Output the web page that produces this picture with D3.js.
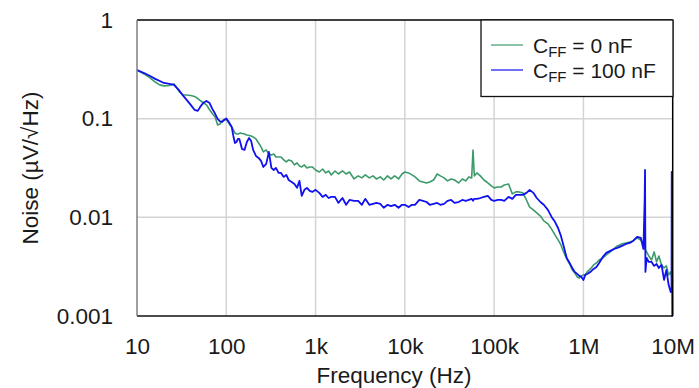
<!DOCTYPE html>
<html>
<head>
<meta charset="utf-8">
<script src="https://cdn.jsdelivr.net/npm/d3@7"></script>
<style>
  body { margin: 0; background: #fff; }
  svg text { font-family: "Liberation Sans", Arial, sans-serif; fill: #1a1a1a; }
</style>
</head>
<body>
<div id="chart"></div>
<script>
// frequency grid (Hz), shared by both traces
const freq = [10, 12, 14, 16, 18, 20, 23, 26, 30, 33, 36, 40, 44, 48, 52, 56, 60, 65, 70, 75,
  80, 85, 90, 95, 100, 105, 110, 115, 120, 125, 130, 135, 140, 145, 150, 160, 170, 180, 190, 200,
  215, 230, 245, 260, 280, 300, 320, 340, 360, 385, 410, 440, 470, 500, 540, 580, 620, 660, 700, 750,
  800, 860, 920, 1e3, 1.1e3, 1.2e3, 1.3e3, 1.4e3, 1.5e3, 1.65e3, 1.8e3, 2e3, 2.2e3, 2.4e3, 2.7e3, 3e3,
  3.3e3, 3.6e3, 4e3, 4.4e3, 4.8e3, 5.3e3, 5.8e3, 6.4e3, 7e3, 7.7e3, 8.5e3, 9.3e3, 10e3, 11e3,
  12e3, 13e3, 14.5e3, 16e3, 17.5e3, 19e3, 21e3, 23e3, 25e3, 27.5e3, 30e3, 33e3, 36e3, 40e3, 44e3,
  48e3, 52e3, 56e3, 58e3, 60e3, 64e3, 70e3, 77e3, 85e3, 93e3, 100e3, 110e3, 120e3, 130e3, 145e3,
  160e3, 175e3, 190e3, 210e3, 230e3, 250e3, 275e3, 300e3, 330e3, 360e3, 400e3, 440e3, 480e3, 520e3,
  560e3, 600e3, 650e3, 700e3, 750e3, 800e3, 850e3, 900e3, 950e3, 1e6, 1.05e6, 1.1e6, 1.2e6, 1.3e6,
  1.4e6, 1.5e6, 1.65e6, 1.8e6, 2e6, 2.2e6, 2.4e6, 2.7e6, 3e6, 3.3e6, 3.6e6, 4e6, 4.4e6, 4.7e6,
  4.85e6, 4.9e6, 4.95e6, 5.1e6, 5.4e6, 5.8e6, 6.2e6, 6.6e6, 7e6, 7.5e6, 8e6, 8.5e6, 9e6, 9.5e6,
  9.7e6, 9.75e6, 9.9e6, 10e6];

// noise, uV/rtHz, CFF = 0 nF
const noiseCff0 = [0.311, 0.284, 0.259, 0.235, 0.220, 0.215, 0.217, 0.225, 0.186, 0.174, 0.174, 0.172, 0.168, 0.160, 0.151, 0.144, 0.138, 0.123, 0.112, 0.104,
  0.0864, 0.0884, 0.0948, 0.0981, 0.0981, 0.0926, 0.0864, 0.0824, 0.0768, 0.0716, 0.0700, 0.0700, 0.0708, 0.0716, 0.0708, 0.0700, 0.0684, 0.0676, 0.0668, 0.0653,
  0.0623, 0.0567, 0.0517, 0.0460, 0.0482, 0.0439, 0.0429, 0.0439, 0.0409, 0.0409, 0.0409, 0.0382, 0.0364, 0.0382, 0.0373, 0.0340, 0.0356, 0.0332, 0.0324, 0.0340,
  0.0317, 0.0324, 0.0324, 0.0302, 0.0288, 0.0309, 0.0282, 0.0295, 0.0269, 0.0295, 0.0275, 0.0295, 0.0275, 0.0288, 0.0245, 0.0263,
  0.0251, 0.0269, 0.0251, 0.0263, 0.0245, 0.0257, 0.0239, 0.0263, 0.0245, 0.0263, 0.0245, 0.0275, 0.0288, 0.0282,
  0.0269, 0.0257, 0.0234, 0.0228, 0.0223, 0.0228, 0.0239, 0.0275, 0.0263, 0.0251, 0.0234, 0.0245, 0.0239, 0.0223, 0.0245,
  0.0234, 0.0257, 0.0251, 0.0482, 0.0263, 0.0282, 0.0263, 0.0239, 0.0223, 0.0208, 0.0199, 0.0203, 0.0203, 0.0213, 0.0218,
  0.0173, 0.0181, 0.0181, 0.0177, 0.0150, 0.0127, 0.0119, 0.0111, 0.0103, 0.0092, 0.0086, 0.0076, 0.00663, 0.00590,
  0.00525, 0.00446, 0.00379, 0.00337, 0.00293, 0.00273, 0.00249, 0.00243, 0.00255, 0.00261, 0.00261, 0.00280, 0.00300, 0.00329,
  0.00345, 0.00370, 0.00388, 0.00416, 0.00446, 0.00478, 0.00513, 0.00538, 0.00550, 0.00563, 0.00577, 0.00618, 0.00590, 0.00513,
  0.00745, 0.0106, 0.00467, 0.00446, 0.00406, 0.00370, 0.00446, 0.00353, 0.00406, 0.00329, 0.00307, 0.00322, 0.00261, 0.00280,
  0.00255, 0.00243, 0.00232, 0.00222];

// noise, uV/rtHz, CFF = 100 nF
const noiseCff100 = [0.311, 0.290, 0.271, 0.253, 0.241, 0.230, 0.225, 0.220, 0.191, 0.170, 0.155, 0.138, 0.123, 0.120, 0.135, 0.146, 0.151, 0.144, 0.125, 0.112,
  0.0993, 0.0937, 0.0926, 0.0970, 0.1005, 0.0948, 0.0884, 0.0824, 0.0668, 0.0567, 0.0580, 0.0623, 0.0623, 0.0554, 0.0493, 0.0482, 0.0580, 0.0637, 0.0594, 0.0482,
  0.0419, 0.0400, 0.0373, 0.0324, 0.0348, 0.0460, 0.0317, 0.0302, 0.0317, 0.0282, 0.0282, 0.0257, 0.0269, 0.0239, 0.0228, 0.0218, 0.0199, 0.0234, 0.0165, 0.0190,
  0.0199, 0.0185, 0.0181, 0.0190, 0.0177, 0.0161, 0.0169, 0.0157, 0.0161, 0.0161, 0.0140, 0.0157, 0.0134, 0.0150, 0.0147, 0.0147,
  0.0134, 0.0154, 0.0134, 0.0137, 0.0140, 0.0137, 0.0125, 0.0134, 0.0130, 0.0134, 0.0125, 0.0134, 0.0134, 0.0127,
  0.0134, 0.0134, 0.0150, 0.0147, 0.0143, 0.0134, 0.0137, 0.0140, 0.0134, 0.0137, 0.0147, 0.0150, 0.0140, 0.0143, 0.0150,
  0.0147, 0.0150, 0.0154, 0.0147, 0.0154, 0.0154, 0.0157, 0.0161, 0.0165, 0.0150, 0.0147, 0.0150, 0.0150, 0.0147, 0.0161,
  0.0154, 0.0169, 0.0169, 0.0169, 0.0177, 0.0190, 0.0177, 0.0157, 0.0143, 0.0134, 0.0119, 0.0101, 0.0090, 0.0078,
  0.00648, 0.00513, 0.00388, 0.00345, 0.00307, 0.00280, 0.00267, 0.00255, 0.00249, 0.00232, 0.00261, 0.00267, 0.00280, 0.00300,
  0.00314, 0.00345, 0.00397, 0.00436, 0.00457, 0.00478, 0.00490, 0.00513, 0.00538, 0.00550, 0.00577, 0.00633, 0.00618, 0.00478,
  0.0150, 0.0302, 0.00280, 0.00388, 0.00353, 0.00353, 0.00322, 0.00337, 0.00307, 0.00329, 0.00232, 0.00293, 0.00207, 0.00175,
  0.00184, 0.0288, 0.001, 0.001];

const xTicks = [1e1, 1e2, 1e3, 1e4, 1e5, 1e6, 1e7];
const xTickLabels = ['10', '100', '1k', '10k', '100k', '1M', '10M'];
const yTicks = [0.001, 0.01, 0.1, 1];
const yTickLabels = ['0.001', '0.01', '0.1', '1'];

const seriesNames = ['0 nF', '100 nF'];
const seriesColors = ['#3d9a6b', '#1010f0'];

const width = 699;
const height = 388;
const margin = { top: 20, right: 26.3, bottom: 72, left: 137 };
const plotW = width - margin.left - margin.right;
const plotH = height - margin.top - margin.bottom;

const svg = d3.select('#chart')
    .append('svg')
    .attr('width', width)
    .attr('height', height);

const xScale = d3.scaleLog().domain([10, 1e7]).range([0, plotW]);
const yScale = d3.scaleLog().domain([0.001, 1]).range([plotH, 0]);

const g = svg.append('g')
    .attr('transform', 'translate(' + margin.left + ',' + margin.top + ')');

// grid lines
g.selectAll('line.vgrid')
    .data(xTicks.slice(1, -1))
    .enter()
    .append('line')
    .attr('x1', d => xScale(d))
    .attr('x2', d => xScale(d))
    .attr('y1', 0)
    .attr('y2', plotH)
    .attr('stroke', '#d4d4d4')
    .attr('stroke-width', 1.5);

g.selectAll('line.hgrid')
    .data(yTicks.slice(1, -1))
    .enter()
    .append('line')
    .attr('x1', 0)
    .attr('x2', plotW)
    .attr('y1', d => yScale(d))
    .attr('y2', d => yScale(d))
    .attr('stroke', '#d4d4d4')
    .attr('stroke-width', 1.5);

// traces
const data = freq.map((f, i) => ({ f: f, a: noiseCff0[i], b: noiseCff100[i] }));

const lineA = d3.line().x(d => xScale(d.f)).y(d => yScale(d.a));
const lineB = d3.line().x(d => xScale(d.f)).y(d => yScale(d.b));

g.append('path')
    .datum(data)
    .attr('d', lineA)
    .attr('fill', 'none')
    .attr('stroke', seriesColors[0])
    .attr('stroke-width', 1.6)
    .attr('stroke-linejoin', 'round');

g.append('path')
    .datum(data)
    .attr('d', lineB)
    .attr('fill', 'none')
    .attr('stroke', seriesColors[1])
    .attr('stroke-width', 1.8)
    .attr('stroke-linejoin', 'round');

// frame
g.append('line').attr('x1', 0).attr('x2', plotW).attr('y1', 0).attr('y2', 0)
    .attr('stroke', '#000').attr('stroke-width', 1.5);
g.append('line').attr('x1', plotW).attr('x2', plotW).attr('y1', 0).attr('y2', plotH)
    .attr('stroke', '#000').attr('stroke-width', 1.5);
g.append('line').attr('x1', 0).attr('x2', plotW).attr('y1', plotH).attr('y2', plotH)
    .attr('stroke', '#111').attr('stroke-width', 1.5);
g.append('line').attr('x1', 0).attr('x2', 0).attr('y1', 0).attr('y2', plotH)
    .attr('stroke', '#7f7f7f').attr('stroke-width', 1.5);

// axes (labels only)
const xAxis = d3.axisBottom(xScale)
    .tickValues(xTicks)
    .tickFormat((d, i) => xTickLabels[i])
    .tickSize(0)
    .tickPadding(22);

const yAxis = d3.axisLeft(yScale)
    .tickValues(yTicks)
    .tickFormat((d, i) => yTickLabels[i])
    .tickSize(0)
    .tickPadding(24);

g.append('g')
    .attr('transform', 'translate(0,' + plotH + ')')
    .call(xAxis)
    .call(s => s.select('.domain').remove())
    .selectAll('text')
    .style('font-size', '22.5px')
    .attr('fill', '#1a1a1a');

g.append('g')
    .call(yAxis)
    .call(s => s.select('.domain').remove())
    .selectAll('text')
    .style('font-size', '22.5px')
    .attr('fill', '#1a1a1a');

// axis titles
svg.append('text')
    .attr('x', 394)
    .attr('y', 383)
    .attr('text-anchor', 'middle')
    .style('font-size', '22.5px')
    .text('Frequency (Hz)');

svg.append('text')
    .attr('transform', 'translate(38,' + (margin.top + plotH / 2) + ') rotate(-90)')
    .attr('text-anchor', 'middle')
    .style('font-size', '22.5px')
    .text('Noise (µV/√Hz)');

// legend
const legend = svg.append('g').attr('transform', 'translate(481,20)');

legend.append('rect')
    .attr('width', 192)
    .attr('height', 76.5)
    .attr('fill', '#fff')
    .attr('stroke', '#111')
    .attr('stroke-width', 1.3);

seriesNames.forEach((name, i) => {
    const y = 25 + i * 25;
    legend.append('line')
        .attr('x1', 10).attr('x2', 42)
        .attr('y1', y).attr('y2', y)
        .attr('stroke', seriesColors[i])
        .attr('stroke-width', 1.2);
    const t = legend.append('text')
        .attr('x', 52)
        .attr('y', y + 8)
        .style('font-size', '21px');
    t.append('tspan').text('C');
    t.append('tspan').attr('dy', 4).style('font-size', '15px').text('FF');
    t.append('tspan').attr('dy', -4).text(' = ' + name);
});
</script>
</body>
</html>
